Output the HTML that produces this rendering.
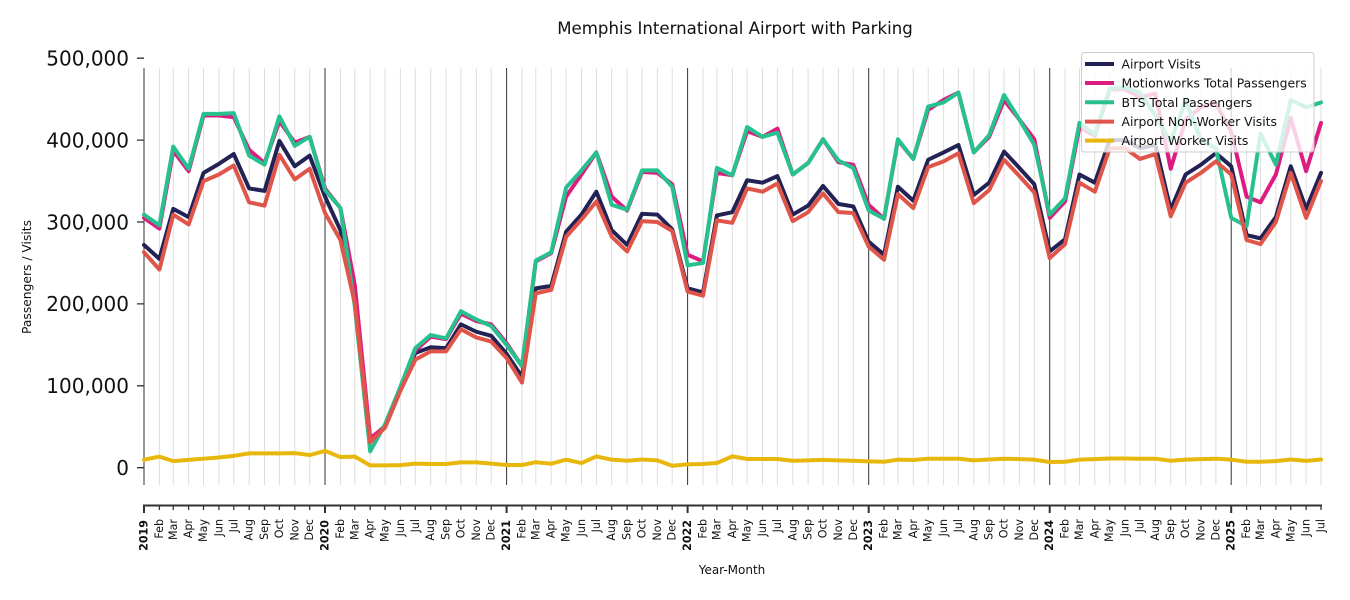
<!DOCTYPE html>
<html>
<head>
<meta charset="utf-8">
<style>
html,body{margin:0;padding:0;background:#fff;}
svg{display:block;font-family:"DejaVu Sans","Liberation Sans",sans-serif;}
.xl{font-size:11.1px;fill:#111;}
.xy{font-size:11.1px;font-weight:bold;fill:#111;}
.yt{font-size:20px;fill:#111;}
.ser{fill:none;stroke-linejoin:round;stroke-linecap:round;}
</style>
</head>
<body>
<svg width="1350" height="600" viewBox="0 0 1350 600" xmlns="http://www.w3.org/2000/svg">
<rect width="1350" height="600" fill="#fff"/>

<!-- title -->
<text x="735" y="34" text-anchor="middle" font-size="16.6" fill="#111">Memphis International Airport with Parking</text>

<!-- minor month gridlines -->
<path stroke="#dedede" stroke-width="1" fill="none" d="
M159.4 68V485M173.3 68V485M188.6 68V485M203.5 68V485M218.9 68V485M233.8 68V485M249.2 68V485M264.5 68V485M279.4 68V485M294.8 68V485M309.7 68V485
M340.4 68V485M354.8 68V485M370.2 68V485M385.1 68V485M400.4 68V485M415.3 68V485M430.7 68V485M446.1 68V485M460.9 68V485M476.3 68V485M491.2 68V485
M522.0 68V485M535.8 68V485M551.2 68V485M566.1 68V485M581.5 68V485M596.4 68V485M611.7 68V485M627.1 68V485M642.0 68V485M657.4 68V485M672.2 68V485
M703.0 68V485M716.9 68V485M732.3 68V485M747.1 68V485M762.5 68V485M777.4 68V485M792.8 68V485M808.1 68V485M823.0 68V485M838.4 68V485M853.3 68V485
M884.0 68V485M897.9 68V485M913.3 68V485M928.2 68V485M943.6 68V485M958.4 68V485M973.8 68V485M989.2 68V485M1004.1 68V485M1019.4 68V485M1034.3 68V485
M1065.1 68V485M1079.5 68V485M1094.8 68V485M1109.7 68V485M1125.1 68V485M1140.0 68V485M1155.3 68V485M1170.7 68V485M1185.6 68V485M1201.0 68V485M1215.9 68V485
M1246.6 68V485M1260.5 68V485M1275.9 68V485M1290.8 68V485M1306.1 68V485M1321.0 68V485"/>
<!-- major year gridlines -->
<path stroke="#333" stroke-width="1" fill="none" d="M144 68V485M325 68V485M506.6 68V485M687.6 68V485M868.7 68V485M1049.7 68V485M1231.2 68V485"/>

<!-- y ticks -->
<path stroke="#333" stroke-width="1.3" fill="none" d="M137 467.7H144M137 385.8H144M137 303.9H144M137 222H144M137 140.1H144M137 58.2H144"/>
<text class="yt" x="129" y="475" text-anchor="end">0</text>
<text class="yt" x="129" y="393.1" text-anchor="end">100,000</text>
<text class="yt" x="129" y="311.2" text-anchor="end">200,000</text>
<text class="yt" x="129" y="229.3" text-anchor="end">300,000</text>
<text class="yt" x="129" y="147.4" text-anchor="end">400,000</text>
<text class="yt" x="129" y="65.5" text-anchor="end">500,000</text>
<text x="27" y="277" transform="rotate(-90 27 277)" text-anchor="middle" dominant-baseline="central" font-size="12.3" fill="#111">Passengers / Visits</text>

<!-- series -->
<g transform="matrix(0.496 0 0 -0.819 144 467.7)">
<polyline class="ser" vector-effect="non-scaling-stroke" stroke="#222255" stroke-width="4" points="0,272 31,255 59,316 90,306 120,360 151,371 181,383 212,341 243,338 273,399 304,368 334,381 365,331 396,290 425,207 456,34 486,51 517,98 547,140 578,147 609,146 639,175 670,166 700,161 731,139 762,111 790,219 821,222 851,288 882,309 912,337 943,290 974,272 1004,310 1035,309 1065,291 1096,219 1127,214 1155,308 1186,312 1216,351 1247,348 1277,356 1308,309 1339,320 1369,344 1400,322 1430,319 1461,276 1492,260 1520,343 1551,326 1581,376 1612,385 1642,394 1673,333 1704,348 1734,386 1765,366 1795,346 1826,264 1857,279 1886,358 1917,348 1947,400 1978,400 2008,390 2039,394 2070,315 2100,358 2131,370 2161,384 2192,368 2223,284 2251,280 2282,306 2312,368 2343,316 2373,360"/>
<polyline class="ser" vector-effect="non-scaling-stroke" stroke="#dd1c80" stroke-width="4" points="0,305 31,292 59,387 90,362 120,430 151,430 181,428 212,388 243,372 273,423 304,397 334,404 365,341 396,317 425,223 456,36 486,50 517,97 547,143 578,160 609,157 639,188 670,179 700,175 731,152 762,124 790,252 821,262 851,331 882,358 912,385 943,331 974,314 1004,361 1035,360 1065,346 1096,260 1127,252 1155,360 1186,357 1216,411 1247,404 1277,414 1308,358 1339,372 1369,401 1400,373 1430,370 1461,321 1492,304 1520,400 1551,377 1581,437 1612,449 1642,458 1673,385 1704,404 1734,449 1765,425 1795,401 1826,305 1857,325 1886,416 1917,405 1947,462 1978,462 2008,452 2039,457 2070,365 2100,425 2131,440 2161,445 2192,410 2223,331 2251,324 2282,358 2312,427 2343,362 2373,421"/>
<polyline class="ser" vector-effect="non-scaling-stroke" stroke="#27c18f" stroke-width="4" points="0,309 31,296 59,392 90,365 120,432 151,432 181,433 212,381 243,370 273,429 304,393 334,404 365,339 396,317 425,197 456,20 486,53 517,99 547,146 578,162 609,158 639,191 670,181 700,173 731,150 762,124 790,253 821,263 851,342 882,363 912,385 943,321 974,315 1004,363 1035,363 1065,343 1096,247 1127,250 1155,366 1186,357 1216,416 1247,404 1277,409 1308,358 1339,372 1369,401 1400,375 1430,366 1461,314 1492,304 1520,401 1551,377 1581,441 1612,446 1642,458 1673,385 1704,406 1734,455 1765,425 1795,394 1826,309 1857,329 1886,421 1917,407 1947,463 1978,464 2008,458 2039,430 2070,398 2100,448 2131,400 2161,390 2192,305 2223,295 2251,408 2282,370 2312,449 2343,440 2373,446"/>
<polyline class="ser" vector-effect="non-scaling-stroke" stroke="#e0554a" stroke-width="4" points="0,263 31,242 59,309 90,297 120,350 151,358 181,369 212,324 243,320 273,382 304,352 334,365 365,311 396,278 425,201 456,31 486,49 517,94 547,132 578,142 609,142 639,169 670,159 700,154 731,134 762,104 790,213 821,217 851,282 882,303 912,325 943,282 974,264 1004,301 1035,300 1065,289 1096,215 1127,210 1155,302 1186,299 1216,341 1247,337 1277,347 1308,301 1339,312 1369,335 1400,312 1430,311 1461,270 1492,254 1520,334 1551,317 1581,367 1612,374 1642,384 1673,323 1704,339 1734,376 1765,356 1795,336 1826,256 1857,273 1886,348 1917,337 1947,390 1978,390 2008,377 2039,383 2070,307 2100,348 2131,360 2161,374 2192,358 2223,278 2251,273 2282,300 2312,360 2343,305 2373,350"/>
<polyline class="ser" vector-effect="non-scaling-stroke" stroke="#e8b70c" stroke-width="4" points="0,9.8 31,13.5 59,8 90,9.5 120,11 151,12.5 181,14.5 212,17.5 243,17.5 273,17.5 304,17.8 334,15.5 365,20.5 396,13 425,13.5 456,2.8 486,2.8 517,3.2 547,5 578,4.5 609,4.5 639,6.5 670,6.5 700,5 731,3.3 762,3.3 790,6.7 821,4.9 851,9.8 882,5.7 912,13.8 943,9.8 974,8.5 1004,10 1035,8.9 1065,2.4 1096,4.1 1127,4.5 1155,5.7 1186,13.8 1216,10.6 1247,10.6 1277,10.6 1308,8.5 1339,9 1369,9.5 1400,9 1430,8.5 1461,7.7 1492,7.3 1520,9.8 1551,9.4 1581,11 1612,11 1642,11 1673,9 1704,10 1734,11 1765,10.5 1795,9.8 1826,7 1857,7.3 1886,9.8 1917,10.5 1947,11.2 1978,11.2 2008,11 2039,11 2070,8.5 2100,9.8 2131,10.5 2161,11 2192,9.8 2223,7.3 2251,7.3 2282,8 2312,10 2343,8.3 2373,10"/>
</g>

<!-- legend -->
<rect x="1081.5" y="52.5" width="232.5" height="99.5" rx="3" ry="3" fill="#fff" fill-opacity="0.8" stroke="#cccccc" stroke-width="1"/>
<g stroke-width="4">
<line x1="1085" y1="64" x2="1114" y2="64" stroke="#222255"/>
<line x1="1085" y1="83" x2="1114" y2="83" stroke="#dd1c80"/>
<line x1="1085" y1="102.3" x2="1114" y2="102.3" stroke="#27c18f"/>
<line x1="1085" y1="121.6" x2="1114" y2="121.6" stroke="#e0554a"/>
<line x1="1085" y1="140.6" x2="1114" y2="140.6" stroke="#e8b70c"/>
</g>
<g font-size="12.4" fill="#111">
<text x="1121.5" y="68.5">Airport Visits</text>
<text x="1121.5" y="87.5">Motionworks Total Passengers</text>
<text x="1121.5" y="106.8">BTS Total Passengers</text>
<text x="1121.5" y="126.1">Airport Non-Worker Visits</text>
<text x="1121.5" y="145.1">Airport Worker Visits</text>
</g>

<!-- x axis spine and ticks -->
<line x1="143" y1="505.5" x2="1322" y2="505.5" stroke="#333" stroke-width="2"/>
<path stroke="#333" stroke-width="2" fill="none" d="M144 505V513M325 505V513M506.6 505V513M687.6 505V513M868.7 505V513M1049.7 505V513M1231.2 505V513"/>
<path stroke="#333" stroke-width="1.3" fill="none" d="
M159.4 505V510M173.3 505V510M188.6 505V510M203.5 505V510M218.9 505V510M233.8 505V510M249.2 505V510M264.5 505V510M279.4 505V510M294.8 505V510M309.7 505V510
M340.4 505V510M354.8 505V510M370.2 505V510M385.1 505V510M400.4 505V510M415.3 505V510M430.7 505V510M446.1 505V510M460.9 505V510M476.3 505V510M491.2 505V510
M522.0 505V510M535.8 505V510M551.2 505V510M566.1 505V510M581.5 505V510M596.4 505V510M611.7 505V510M627.1 505V510M642.0 505V510M657.4 505V510M672.2 505V510
M703.0 505V510M716.9 505V510M732.3 505V510M747.1 505V510M762.5 505V510M777.4 505V510M792.8 505V510M808.1 505V510M823.0 505V510M838.4 505V510M853.3 505V510
M884.0 505V510M897.9 505V510M913.3 505V510M928.2 505V510M943.6 505V510M958.4 505V510M973.8 505V510M989.2 505V510M1004.1 505V510M1019.4 505V510M1034.3 505V510
M1065.1 505V510M1079.5 505V510M1094.8 505V510M1109.7 505V510M1125.1 505V510M1140.0 505V510M1155.3 505V510M1170.7 505V510M1185.6 505V510M1201.0 505V510M1215.9 505V510
M1246.6 505V510M1260.5 505V510M1275.9 505V510M1290.8 505V510M1306.1 505V510M1321.0 505V510"/>

<!-- x tick labels -->
<g text-anchor="end" dominant-baseline="central">
<text class="xy" transform="translate(144,520) rotate(-90)">2019</text>
<text class="xl" transform="translate(159.4,519) rotate(-90)">Feb</text>
<text class="xl" transform="translate(173.3,519) rotate(-90)">Mar</text>
<text class="xl" transform="translate(188.6,519) rotate(-90)">Apr</text>
<text class="xl" transform="translate(203.5,519) rotate(-90)">May</text>
<text class="xl" transform="translate(218.9,519) rotate(-90)">Jun</text>
<text class="xl" transform="translate(233.8,519) rotate(-90)">Jul</text>
<text class="xl" transform="translate(249.2,519) rotate(-90)">Aug</text>
<text class="xl" transform="translate(264.5,519) rotate(-90)">Sep</text>
<text class="xl" transform="translate(279.4,519) rotate(-90)">Oct</text>
<text class="xl" transform="translate(294.8,519) rotate(-90)">Nov</text>
<text class="xl" transform="translate(309.7,519) rotate(-90)">Dec</text>
<text class="xy" transform="translate(325,520) rotate(-90)">2020</text>
<text class="xl" transform="translate(340.4,519) rotate(-90)">Feb</text>
<text class="xl" transform="translate(354.8,519) rotate(-90)">Mar</text>
<text class="xl" transform="translate(370.2,519) rotate(-90)">Apr</text>
<text class="xl" transform="translate(385.1,519) rotate(-90)">May</text>
<text class="xl" transform="translate(400.4,519) rotate(-90)">Jun</text>
<text class="xl" transform="translate(415.3,519) rotate(-90)">Jul</text>
<text class="xl" transform="translate(430.7,519) rotate(-90)">Aug</text>
<text class="xl" transform="translate(446.1,519) rotate(-90)">Sep</text>
<text class="xl" transform="translate(460.9,519) rotate(-90)">Oct</text>
<text class="xl" transform="translate(476.3,519) rotate(-90)">Nov</text>
<text class="xl" transform="translate(491.2,519) rotate(-90)">Dec</text>
<text class="xy" transform="translate(506.6,520) rotate(-90)">2021</text>
<text class="xl" transform="translate(522.0,519) rotate(-90)">Feb</text>
<text class="xl" transform="translate(535.8,519) rotate(-90)">Mar</text>
<text class="xl" transform="translate(551.2,519) rotate(-90)">Apr</text>
<text class="xl" transform="translate(566.1,519) rotate(-90)">May</text>
<text class="xl" transform="translate(581.5,519) rotate(-90)">Jun</text>
<text class="xl" transform="translate(596.4,519) rotate(-90)">Jul</text>
<text class="xl" transform="translate(611.7,519) rotate(-90)">Aug</text>
<text class="xl" transform="translate(627.1,519) rotate(-90)">Sep</text>
<text class="xl" transform="translate(642.0,519) rotate(-90)">Oct</text>
<text class="xl" transform="translate(657.4,519) rotate(-90)">Nov</text>
<text class="xl" transform="translate(672.2,519) rotate(-90)">Dec</text>
<text class="xy" transform="translate(687.6,520) rotate(-90)">2022</text>
<text class="xl" transform="translate(703.0,519) rotate(-90)">Feb</text>
<text class="xl" transform="translate(716.9,519) rotate(-90)">Mar</text>
<text class="xl" transform="translate(732.3,519) rotate(-90)">Apr</text>
<text class="xl" transform="translate(747.1,519) rotate(-90)">May</text>
<text class="xl" transform="translate(762.5,519) rotate(-90)">Jun</text>
<text class="xl" transform="translate(777.4,519) rotate(-90)">Jul</text>
<text class="xl" transform="translate(792.8,519) rotate(-90)">Aug</text>
<text class="xl" transform="translate(808.1,519) rotate(-90)">Sep</text>
<text class="xl" transform="translate(823.0,519) rotate(-90)">Oct</text>
<text class="xl" transform="translate(838.4,519) rotate(-90)">Nov</text>
<text class="xl" transform="translate(853.3,519) rotate(-90)">Dec</text>
<text class="xy" transform="translate(868.7,520) rotate(-90)">2023</text>
<text class="xl" transform="translate(884.0,519) rotate(-90)">Feb</text>
<text class="xl" transform="translate(897.9,519) rotate(-90)">Mar</text>
<text class="xl" transform="translate(913.3,519) rotate(-90)">Apr</text>
<text class="xl" transform="translate(928.2,519) rotate(-90)">May</text>
<text class="xl" transform="translate(943.6,519) rotate(-90)">Jun</text>
<text class="xl" transform="translate(958.4,519) rotate(-90)">Jul</text>
<text class="xl" transform="translate(973.8,519) rotate(-90)">Aug</text>
<text class="xl" transform="translate(989.2,519) rotate(-90)">Sep</text>
<text class="xl" transform="translate(1004.1,519) rotate(-90)">Oct</text>
<text class="xl" transform="translate(1019.4,519) rotate(-90)">Nov</text>
<text class="xl" transform="translate(1034.3,519) rotate(-90)">Dec</text>
<text class="xy" transform="translate(1049.7,520) rotate(-90)">2024</text>
<text class="xl" transform="translate(1065.1,519) rotate(-90)">Feb</text>
<text class="xl" transform="translate(1079.5,519) rotate(-90)">Mar</text>
<text class="xl" transform="translate(1094.8,519) rotate(-90)">Apr</text>
<text class="xl" transform="translate(1109.7,519) rotate(-90)">May</text>
<text class="xl" transform="translate(1125.1,519) rotate(-90)">Jun</text>
<text class="xl" transform="translate(1140.0,519) rotate(-90)">Jul</text>
<text class="xl" transform="translate(1155.3,519) rotate(-90)">Aug</text>
<text class="xl" transform="translate(1170.7,519) rotate(-90)">Sep</text>
<text class="xl" transform="translate(1185.6,519) rotate(-90)">Oct</text>
<text class="xl" transform="translate(1201.0,519) rotate(-90)">Nov</text>
<text class="xl" transform="translate(1215.9,519) rotate(-90)">Dec</text>
<text class="xy" transform="translate(1231.2,520) rotate(-90)">2025</text>
<text class="xl" transform="translate(1246.6,519) rotate(-90)">Feb</text>
<text class="xl" transform="translate(1260.5,519) rotate(-90)">Mar</text>
<text class="xl" transform="translate(1275.9,519) rotate(-90)">Apr</text>
<text class="xl" transform="translate(1290.8,519) rotate(-90)">May</text>
<text class="xl" transform="translate(1306.1,519) rotate(-90)">Jun</text>
<text class="xl" transform="translate(1321.0,519) rotate(-90)">Jul</text>
</g>

<text x="732" y="574" text-anchor="middle" font-size="12" fill="#111">Year-Month</text>
</svg>
</body>
</html>
